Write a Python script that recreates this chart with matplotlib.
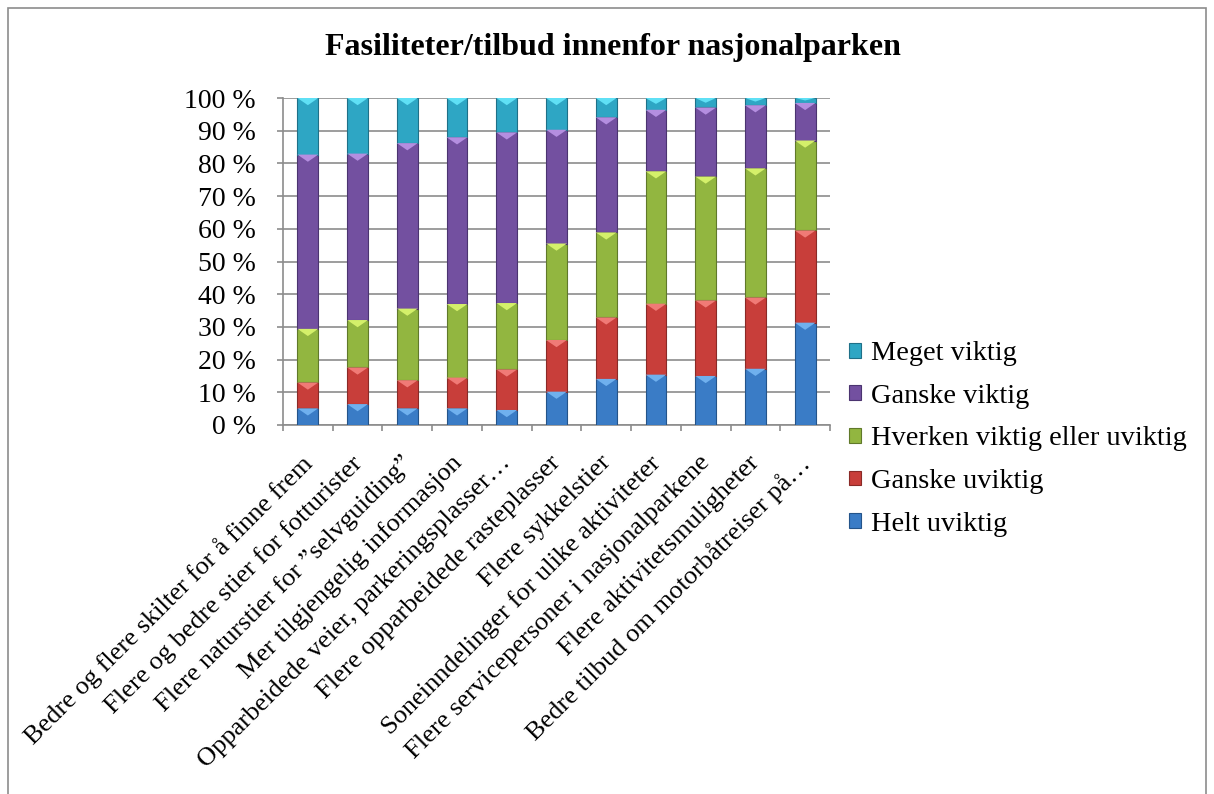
import matplotlib
matplotlib.use("Agg")
import matplotlib.pyplot as plt
import matplotlib.transforms as mtransforms
import numpy as np
from matplotlib.patches import Rectangle

categories = [
    "Bedre og flere skilter for å finne frem",
    "Flere og bedre stier for fotturister",
    "Flere naturstier for ”selvguiding”",
    "Mer tilgjengelig informasjon",
    "Opparbeidede veier, parkeringsplasser…",
    "Flere opparbeidede rasteplasser",
    "Flere sykkelstier",
    "Soneinndelinger for ulike aktiviteter",
    "Flere servicepersoner i nasjonalparkene",
    "Flere aktivitetsmuligheter",
    "Bedre tilbud om motorbåtreiser på…",
]
series_names = ["Helt uviktig", "Ganske uviktig", "Hverken viktig eller uviktig",
                "Ganske viktig", "Meget viktig"]
helt_uviktig = [5.1, 6.4, 5.1, 5.1, 4.6, 10.2, 14.1, 15.4, 15.0, 17.2, 31.3]
ganske_uviktig = [7.9, 11.2, 8.6, 9.4, 12.4, 15.8, 18.8, 21.7, 23.1, 21.8, 28.2]
hverken = [16.4, 14.5, 21.9, 22.5, 20.3, 29.5, 26.0, 40.5, 37.9, 39.5, 27.5]
ganske_viktig = [53.3, 50.9, 50.6, 51.0, 52.2, 34.8, 35.2, 18.8, 21.1, 19.3, 11.5]
meget_viktig = [17.3, 17.0, 13.8, 12.0, 10.5, 9.7, 5.9, 3.6, 2.9, 2.2, 1.5]
yticklabels = ["0 %", "10 %", "20 %", "30 %", "40 %", "50 %", "60 %", "70 %", "80 %", "90 %", "100 %"]

series = [helt_uviktig, ganske_uviktig, hverken, ganske_viktig, meget_viktig]
colors = ["#3A7CC6", "#C83E3A", "#92B640", "#7350A0", "#2EA6C4"]
lights = ["#6FB0EE", "#F07A76", "#D4F06A", "#B48EE0", "#5FE0F5"]
edges = ["#24548A", "#8A2A27", "#60792A", "#4B3470", "#1F7088"]

plt.rcParams['font.family'] = ['Liberation Serif', 'DejaVu Serif']

fig = plt.figure(figsize=(12.14, 7.94), dpi=100)
fig.patches.append(Rectangle((0.007, -0.01), 0.986, 1.0, transform=fig.transFigure,
                             fill=False, edgecolor="#8C8C8C", linewidth=1.2))
ax = fig.add_axes([283/1214, 1-425/794, (830-283)/1214, (425-98)/794])

x = np.arange(len(categories))
width = 0.42
bottom = np.zeros(len(categories))
handles = []
for vals, name, c, lc, e in zip(series, series_names, colors, lights, edges):
    v = np.array(vals)
    b = ax.bar(x, v, width, bottom=bottom, color=c, edgecolor=e, linewidth=0.8,
               label=name, zorder=3)
    handles.append(b)
    top = bottom + v
    # bevel highlight: light triangle at top of each segment
    for xi, t, h in zip(x, top, v):
        th = min(2.2, h * 0.5)
        ax.fill([xi - width/2, xi + width/2, xi], [t, t, t - th],
                color=lc, zorder=4, linewidth=0)
    bottom = top

ax.set_xlim(-0.5, len(categories) - 0.5)
ax.set_ylim(0, 100)
ax.set_yticks(np.arange(0, 101, 10))
ax.set_yticklabels(yticklabels, fontsize=20)
ax.yaxis.grid(True, color="#8C8C8C", linewidth=1.2, zorder=0)
ax.set_axisbelow(True)
ax.set_xticks(np.arange(-0.5, len(categories), 1.0))
ax.set_xticklabels([])
ax.set_xticks(x, minor=True)
ax.set_xticklabels(categories, minor=True, rotation=45, ha='right',
                   rotation_mode='anchor', fontsize=19)
ax.tick_params(axis='x', which='minor', length=0, pad=19)
ax.tick_params(axis='x', which='major', length=4.5, color="#8C8C8C", width=1.2)
ax.tick_params(axis='y', length=4.5, color="#8C8C8C", width=1.2, pad=15)
offset = mtransforms.ScaledTranslation(-7/100, 0, fig.dpi_scale_trans)
for lbl in ax.get_xticklabels(minor=True):
    lbl.set_transform(lbl.get_transform() + offset)
for s in ["top", "right"]:
    ax.spines[s].set_visible(False)
for s in ["left", "bottom"]:
    ax.spines[s].set_color("#8C8C8C")
    ax.spines[s].set_linewidth(1.2)

fig.text(613/1214, 1 - 48/794, "Fasiliteter/tilbud innenfor nasjonalparken",
         ha='center', va='center', fontsize=23, fontweight='bold')

leg = fig.legend(handles[::-1], series_names[::-1], loc='upper left',
                 bbox_to_anchor=(838/1214, 1 - 330/794), frameon=False,
                 fontsize=20.4, handlelength=0.42, handleheight=0.42,
                 handletextpad=0.35, labelspacing=0.62, borderaxespad=0)

fig.savefig("out.png", dpi=100)
